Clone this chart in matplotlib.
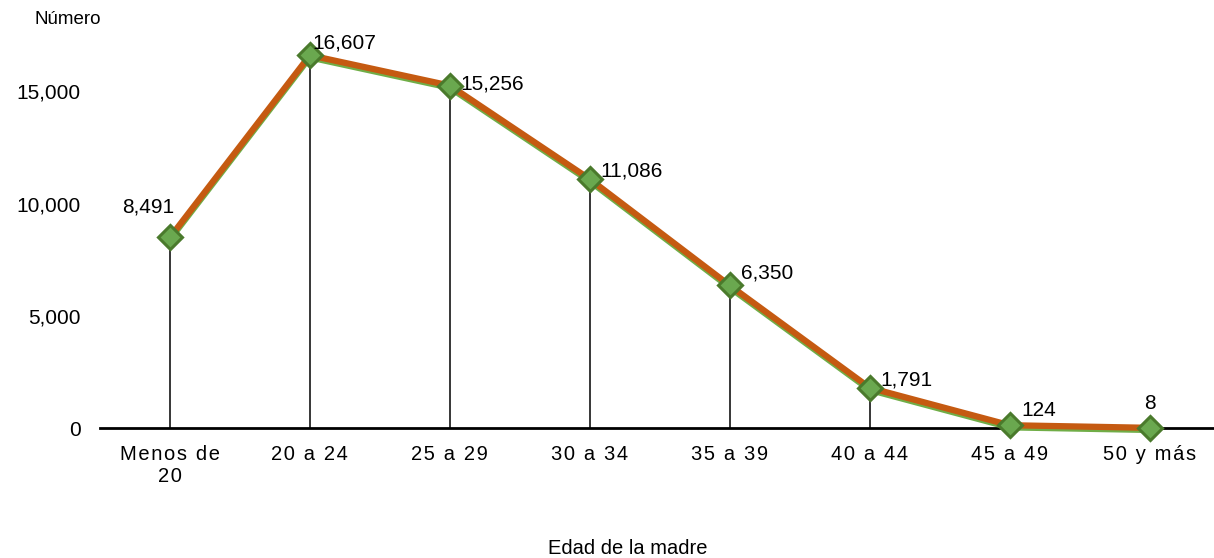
import matplotlib.pyplot as plt
import matplotlib.transforms as mtransforms
import numpy as np

plt.rcParams['font.family'] = ['Liberation Sans', 'DejaVu Sans']

categories = ["Menos de\n20", "20 a 24", "25 a 29", "30 a 34", "35 a 39", "40 a 44", "45 a 49", "50 y más"]
values = [8491, 16607, 15256, 11086, 6350, 1791, 124, 8]
labels = ["8,491", "16,607", "15,256", "11,086", "6,350", "1,791", "124", "8"]
yticks = [0, 5000, 10000, 15000]


def spaced(s):
    # wide letter spacing like the original
    return "\n".join("\u200a".join(line) for line in s.split("\n"))


fig = plt.figure(figsize=(12.14, 5.58), dpi=100)
ax = fig.add_axes([100 / 1214, 1 - 428 / 558, 1 - 100 / 1214, 404 / 558])

x = np.arange(len(categories))

ax.axhline(0, color="black", lw=2, zorder=1, clip_on=False)
ax.vlines(x, 0, values, color="black", lw=1.1, zorder=2)

shift = mtransforms.offset_copy(ax.transData, fig=fig, x=0, y=-2.5, units="dots")
ax.plot(x, values, color="#70ad47", lw=4, transform=shift, zorder=3, solid_capstyle="butt", clip_on=False)
ax.plot(x, values, color="#c55a11", lw=4.5, zorder=4, solid_capstyle="butt", clip_on=False)
ax.plot(x, values, ls="none", marker="D", markersize=12, markerfacecolor="#6aa84f",
        markeredgecolor="#4a7a2c", markeredgewidth=2.2, zorder=5, clip_on=False)

# data labels
offsets = [(-22, 30), (2, 12), (11, 2), (11, 8), (11, 12), (11, 8), (12, 15), (0, 15)]
for xi, yi, lab, (dx, dy) in zip(x, values, labels, offsets):
    ha = "center" if dx <= 0 else "left"
    ax.annotate(lab, (xi, yi), xytext=(dx, dy), textcoords="offset pixels",
                ha=ha, va="bottom" if dx == 0 else "center", fontsize=15, zorder=6)

ax.set_xlim(-0.5, 7.46)
ax.set_ylim(0, 18000)
ax.set_yticks(yticks)
ax.set_yticklabels([f"{v:,}" for v in yticks], fontsize=15)
ax.set_xticks(x)
ax.set_xticklabels([spaced(c) for c in categories], fontsize=14.5, linespacing=1.25)
ax.tick_params(axis="both", length=0)
ax.tick_params(axis="y", pad=14)
ax.tick_params(axis="x", pad=12)
for sp in ax.spines.values():
    sp.set_visible(False)

fig.text(35 / 1214, 1 - 20 / 558, "Número", fontsize=13.5, va="center", ha="left")
fig.text(628 / 1214, 1 - 548 / 558, "Edad de la madre", fontsize=14.5, va="center", ha="center")

fig.savefig("out.png", dpi=100)
